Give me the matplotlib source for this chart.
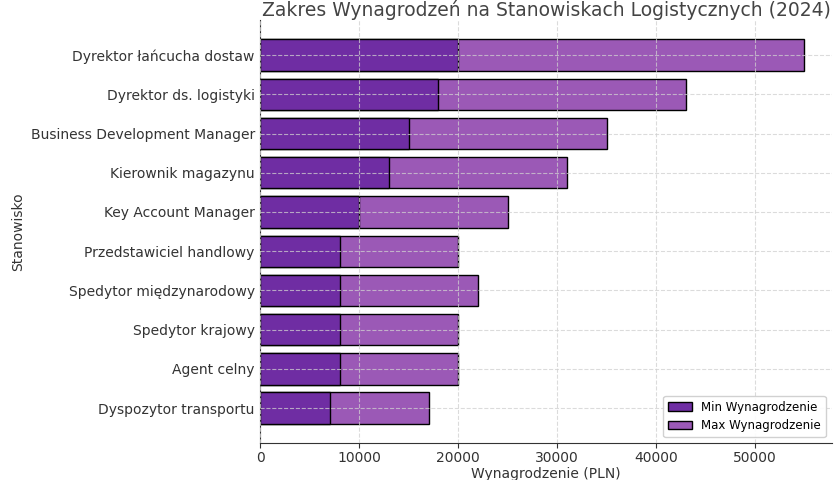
import matplotlib
matplotlib.use("Agg")
import matplotlib.pyplot as plt

# stanowiska od gory do dolu
stanowiska = ['Dyrektor łańcucha dostaw', 'Dyrektor ds. logistyki',
              'Business Development Manager', 'Kierownik magazynu',
              'Key Account Manager', 'Przedstawiciel handlowy',
              'Spedytor międzynarodowy', 'Spedytor krajowy',
              'Agent celny', 'Dyspozytor transportu']
min_wyn = [20000, 18000, 15000, 13000, 10000, 8000, 8000, 8000, 8000, 7000]
max_wyn = [55000, 43000, 35000, 31000, 25000, 20000, 22000, 20000, 20000, 17000]

plt.rcParams['font.family'] = ['DejaVu Sans']
txt = '#333333'

fig, ax = plt.subplots(figsize=(8.4, 4.8), dpi=100)
fig.subplots_adjust(left=0.31, right=0.99, top=0.958, bottom=0.077)

ax.barh(stanowiska, max_wyn, color='#9b59b6', edgecolor='black',
        label='Max Wynagrodzenie', height=0.8, zorder=2)
ax.barh(stanowiska, min_wyn, color='#6f2da3', edgecolor='black',
        label='Min Wynagrodzenie', height=0.8, zorder=2)
ax.invert_yaxis()

ax.grid(True, linestyle='--', color='#d0d0d0', linewidth=0.8, alpha=0.75, zorder=3)
ax.set_axisbelow(False)
for s in ['top', 'right']:
    ax.spines[s].set_visible(False)
for s in ['left', 'bottom']:
    ax.spines[s].set_color('#333333')

ax.set_title('Zakres Wynagrodzeń na Stanowiskach Logistycznych (2024)',
             fontsize=13.5, color='#444444', pad=2)
ax.set_xlabel('Wynagrodzenie (PLN)', fontsize=10, color=txt, labelpad=2)
ax.set_ylabel('Stanowisko', fontsize=10, color=txt)
ax.tick_params(colors=txt, labelsize=10)
ax.tick_params(axis='y', length=0, pad=4)
ax.tick_params(axis='x', pad=2)

h, l = ax.get_legend_handles_labels()
ax.legend(h[::-1], l[::-1], loc='lower right', fontsize=8.5, framealpha=0.9)

fig.savefig('out.png')
